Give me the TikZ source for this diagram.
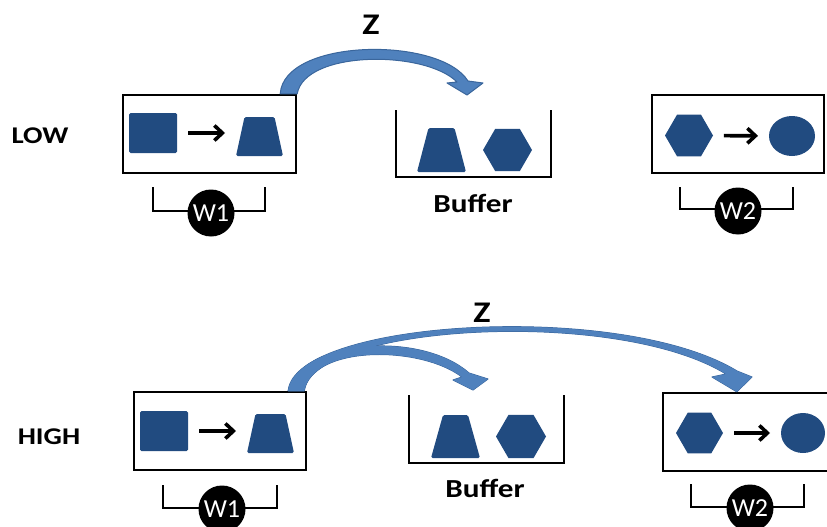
\documentclass[tikz,border=0pt]{standalone}
\usepackage{fontspec}
\usepackage{graphicx}
\setmainfont{Carlito}
\usetikzlibrary{shapes.geometric,arrows.meta,calc}
\definecolor{shapeblue}{RGB}{33,75,128}
\definecolor{zblue}{RGB}{79,129,189}
\definecolor{zedge}{RGB}{58,102,156}
\newcommand{\wide}[1]{\scalebox{1.2}[1]{#1}}
% filled trapezoid inside the frame of a named node; #2 = inset of the top corners
\newcommand{\trapfill}[2]{\fill[shapeblue, rounded corners=1.5pt] (#1.south west) -- ($(#1.north west)+(#2,0)$) -- ($(#1.north east)+(-#2,0)$) -- (#1.south east) -- cycle;}

\tikzset{
  stage/.style={draw=black, line width=2.4pt, rectangle, inner sep=0pt, minimum height=78pt},
  sqr/.style={rectangle, fill=shapeblue, minimum width=48pt, minimum height=40pt, inner sep=0pt, rounded corners=1.5pt},
  trapframe/.style={rectangle, inner sep=0pt, outer sep=0pt},
  hexa/.style={regular polygon, regular polygon sides=6, fill=shapeblue, inner sep=0pt, outer sep=0pt, minimum size=#1},
  oval/.style={ellipse, fill=shapeblue, inner sep=0pt, outer sep=0pt},
  flow/.style={-{Straight Barb[length=8pt,width=15pt]}, line width=3.6pt, shorten <=11pt, shorten >=11pt},
  worker/.style={circle, fill=black, minimum size=47pt, inner sep=0pt, text=white, font=\fontsize{26}{26}\selectfont},
  bracket/.style={line width=2.6pt},
  tray/.style={line width=2.6pt},
  lbl/.style={font=\fontsize{24}{27}\selectfont\bfseries},
  buflbl/.style={font=\fontsize{26}{30}\selectfont\bfseries},
  zlbl/.style={font=\fontsize{30}{34}\selectfont\bfseries},
  zarrow/.style={fill=zblue, draw=zedge, line width=1pt, line join=round},
  zfill/.style={fill=zblue}
}

\begin{document}
\begin{tikzpicture}[x=1pt, y=-1pt]
\useasboundingbox (0,0) rectangle (827,527);
\clip (0,0) rectangle (827,527);

% ---------------- LOW row ----------------
\node[lbl] (low) at (40,136) {\wide{LOW}};

\node[stage, minimum width=173pt] (box1) at (209.5,134) {};
\node[sqr] (sq1) at (153,133) {};
\node[trapframe, minimum width=47pt, minimum height=39pt] (tr1) at (259.5,136.5) {};
\trapfill{tr1}{8.5}
\draw[flow] (sq1.east) -- (sq1.east -| tr1.west);
\draw[bracket] (153,187) |- (265,211) -- (265,187);
\node[worker] (w1a) at (211,213) {W1};

\coordinate (tray1) at (473.5,110);
\draw[tray] (396,110) |- (551,177) -- (551,110);
\node[trapframe, minimum width=49pt, minimum height=44pt] (btr1) at (441.5,150) {};
\trapfill{btr1}{11.5}
\node[hexa=49pt] (bhx1) at (507.5,150) {};
\node[buflbl] (buf1) at (473,203) {\wide{Buffer}};

\node[stage, minimum width=172pt] (box2) at (738,134) {};
\node[hexa=48pt] (hx2) at (689,135.5) {};
\node[oval, minimum width=46pt, minimum height=40pt] (ov2) at (792,136) {};
\draw[flow] (hx2) -- (ov2);
\draw[bracket] (680,187) |- (793,209) -- (793,187);
\node[worker] (w2a) at (738,211) {W2};

% curved Z arrow from the first stage into the buffer
\coordinate (z1a) at ($(box1.north east)+(-17,0)$);
\coordinate (z1b) at (box1.north east);
\coordinate (z1t) at ($(tray1)+(-6.5,-15)$);
\node[zlbl] (z1) at (371,25) {\wide{Z}};
\path[zarrow] (z1a) .. controls (284,38) and (440,36) .. (468,81)
  -- (483,83) -- (z1t) -- (447,83) -- (457,82)
  .. controls (425,50) and (305,50) .. (z1b) -- cycle;

% ---------------- HIGH row ----------------
\node[lbl] (high) at (49,437) {\wide{HIGH}};

\node[stage, minimum width=172pt] (box3) at (220,431) {};
\node[sqr] (sq3) at (164,431) {};
\node[trapframe, minimum width=47pt, minimum height=39pt] (tr3) at (270.5,433.5) {};
\trapfill{tr3}{8.5}
\draw[flow] (sq3.east) -- (sq3.east -| tr3.west);
\draw[bracket] (163,485) |- (277,508) -- (277,485);
\node[worker] (w1b) at (222,509) {W1};

\coordinate (tray3) at (486.5,395);
\draw[tray] (409,395) |- (564,463) -- (564,395);
\node[trapframe, minimum width=49pt, minimum height=43pt] (btr3) at (455.5,436.5) {};
\trapfill{btr3}{12}
\node[hexa=50pt] (bhx3) at (521,436.5) {};
\node[buflbl] (buf3) at (485,488) {\wide{Buffer}};

\node[stage, minimum width=177pt] (box4) at (751.5,432) {};
\node[hexa=47pt] (hx4) at (699.5,433) {};
\node[oval, minimum width=44pt, minimum height=40pt] (ov4) at (803,433) {};
\draw[flow] (hx4) -- (ov4);
\draw[bracket] (691,484) |- (804,507) -- (804,484);
\node[worker] (w2b) at (750,508) {W2};

% forked Z arrow: to the buffer and on to the second stage
\coordinate (z3a) at ($(box3.north east)+(-19,0)$);
\coordinate (z3b) at ($(box3.north east)+(-3,0)$);
\coordinate (z3t) at ($(tray3)+(-13.5,-5)$);
\coordinate (z4t) at ($(box4.north west)+(75,0)$);
\node[zlbl] (z3) at (482,313) {\wide{Z}};
\foreach \sty in {zarrow,zfill}{
  \path[\sty] (z3a) .. controls (295,320) and (620,300) .. (737,371)
    -- (752,377) -- (z4t) -- (712,377) -- (726,374)
    .. controls (615,306) and (312,325) .. (z3b) -- cycle;
  \path[\sty] (z3a) .. controls (300,340) and (420,330) .. (469,373)
    -- (488,379) -- (z3t) -- (453,380) -- (462,377)
    .. controls (420,345) and (312,345) .. (z3b) -- cycle;
}
\end{tikzpicture}
\end{document}
